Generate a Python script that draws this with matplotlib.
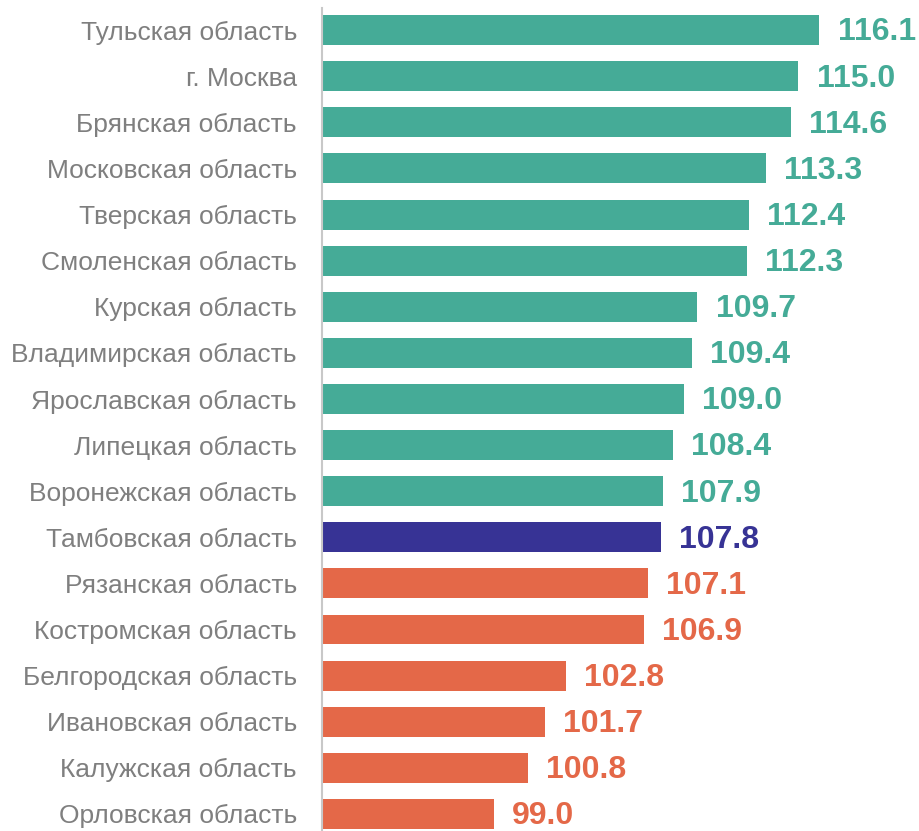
import matplotlib.pyplot as plt

regions = ["Тульская область", "г. Москва", "Брянская область", "Московская область",
           "Тверская область", "Смоленская область", "Курская область",
           "Владимирская область", "Ярославская область", "Липецкая область",
           "Воронежская область", "Тамбовская область", "Рязанская область",
           "Костромская область", "Белгородская область", "Ивановская область",
           "Калужская область", "Орловская область"]
values = [116.1, 115.0, 114.6, 113.3, 112.4, 112.3, 109.7, 109.4, 109.0, 108.4,
          107.9, 107.8, 107.1, 106.9, 102.8, 101.7, 100.8, 99.0]
highlight = "Тамбовская область"

teal = "#45ab97"
blue = "#373395"
orange = "#e46848"

# цвет: выше Тамбовской - зеленый, сама - синий, ниже - оранжевый
idx = regions.index(highlight)
colors = [teal if i < idx else (blue if i == idx else orange) for i in range(len(regions))]

plt.rcParams['font.family'] = ['Liberation Sans', 'DejaVu Sans']

fig = plt.figure(figsize=(9.2, 8.31), dpi=100)
ax = fig.add_axes([322 / 920, 0, 598 / 920, 823 / 831])

y = list(range(len(regions)))
ax.barh(y, [v - 90 for v in values], left=90, height=0.65, color=colors)
ax.set_xlim(90, 90 + 598 / 19.06)
ax.set_ylim(17.37, -0.48)

for yi, v, c in zip(y, values, colors):
    ax.text(v + 0.95, yi + 0.05, f"{v:.1f}", color=c, fontsize=23, fontweight="bold",
            va="center", ha="left", clip_on=False)

ax.set_yticks(y)
ax.set_yticklabels(regions, fontsize=19, color="#7f7f7f")
ax.tick_params(axis="y", length=0, pad=18)
ax.set_xticks([])
for s in ["top", "right", "bottom"]:
    ax.spines[s].set_visible(False)
ax.spines["left"].set_color("#c8c8c8")
ax.spines["left"].set_linewidth(1.5)

fig.savefig("out.png", dpi=100)
